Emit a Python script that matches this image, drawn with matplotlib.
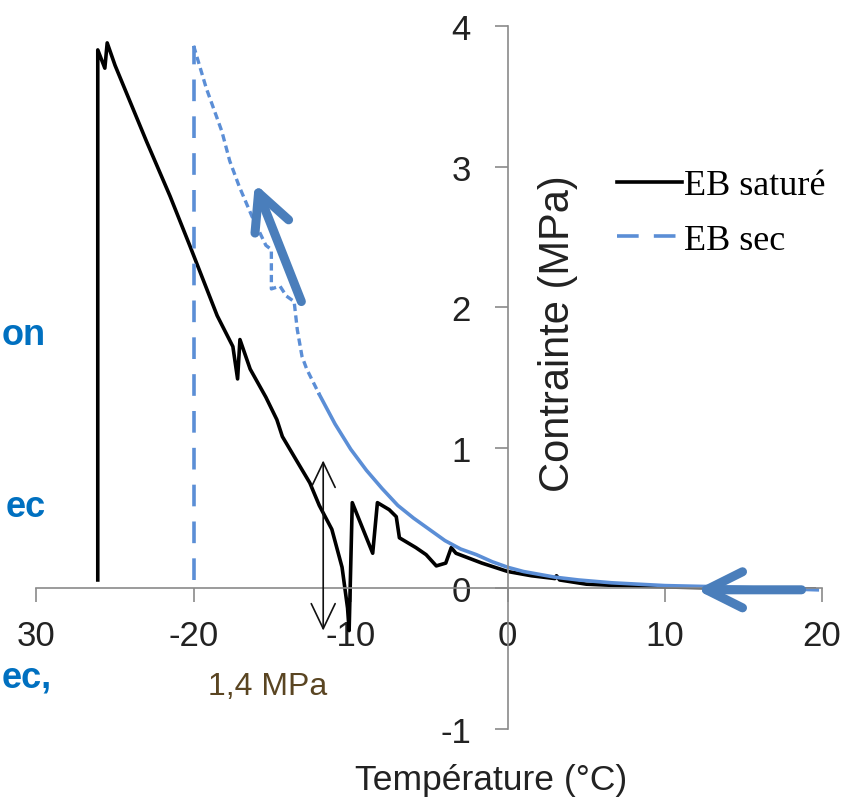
import matplotlib
matplotlib.use("Agg")
import matplotlib.pyplot as plt
from matplotlib import font_manager

# Courbes (Température en °C, Contrainte en MPa)
sat_temp = [-26.1, -26.1, -25.65, -25.5, -25.0, -23.0, -21.5, -20.25, -18.5, -17.5,
            -17.2, -17.05, -16.4, -15.4, -14.7, -14.35, -13.45, -12.6, -12.0, -11.2,
            -10.55, -10.2, -10.1, -9.9, -8.6, -8.3, -7.55, -7.1, -6.9, -5.85,
            -5.2, -4.55, -3.95, -3.6, -3.3, -1.65, 0.0, 1.5, 3.0, 3.1,
            3.3, 5.0, 7.0, 10.0, 15.0, 19.5]
sat_stress = [0.06, 3.83, 3.70, 3.88, 3.72, 3.18, 2.79, 2.44, 1.94, 1.72,
              1.49, 1.77, 1.56, 1.36, 1.20, 1.08, 0.91, 0.75, 0.59, 0.42,
              0.15, -0.14, -0.30, 0.61, 0.25, 0.61, 0.56, 0.51, 0.36, 0.29,
              0.24, 0.16, 0.18, 0.29, 0.25, 0.18, 0.12, 0.09, 0.07, 0.09,
              0.06, 0.03, 0.02, 0.01, 0.0, -0.005]

dry_temp = [-20.0, -20.0, -19.2, -18.2, -17.7, -17.1, -16.3, -15.4, -15.05, -15.05,
            -14.5, -14.1, -13.6, -13.4, -13.1, -12.8, -12.0, -11.0, -10.0, -9.0,
            -8.0, -7.0, -6.0, -5.0, -4.0, -3.0, -2.0, -1.0, 0.0, 1.0,
            2.0, 3.0, 4.5, 6.6, 10.0, 14.0, 19.7]
dry_stress = [0.06, 3.86, 3.56, 3.25, 3.04, 2.86, 2.65, 2.44, 2.41, 2.13,
              2.15, 2.08, 2.04, 1.84, 1.65, 1.56, 1.38, 1.17, 0.99, 0.84,
              0.71, 0.59, 0.50, 0.42, 0.34, 0.28, 0.24, 0.19, 0.15, 0.12,
              0.10, 0.08, 0.06, 0.04, 0.02, 0.01, -0.01]

x_ticks = [-30, -20, -10, 0, 10, 20]
x_labels = ["30", "-20", "-10", "0", "10", "20"]
y_ticks = [-1, 0, 1, 2, 3, 4]
y_labels = ["-1", "0", "1", "2", "3", "4"]

noir = "black"
bleu = "#5B8ED6"
bleu_fleche = "#4A7EBB"
gris = "#8a8a8a"

noms = {f.name for f in font_manager.fontManager.ttflist}
if "Liberation Sans Narrow" in noms:
    police_ticks, taille_ticks = "Liberation Sans Narrow", 29.5
else:
    police_ticks, taille_ticks = "Liberation Sans", 25

fig = plt.figure(figsize=(8.48, 8.04), dpi=100)
ax = fig.add_axes([36.5 / 848, 74 / 804, 785.5 / 848, 703 / 804])
ax.set_xlim(-30, 20)
ax.set_ylim(-1, 4)

# séries
ax.plot(sat_temp, sat_stress, color=noir, lw=2.6, label="EB saturé", solid_joinstyle="round")
ax.plot(dry_temp[0:2], dry_stress[0:2], color=bleu, lw=2.6, dashes=(6, 4.2), label="EB sec")
ax.plot(dry_temp[1:17], dry_stress[1:17], color=bleu, lw=2.4, dashes=(2.2, 1.3))
ax.plot(dry_temp[16:], dry_stress[16:], color=bleu, lw=2.6)

# axes au croisement (0, 0)
for s in ["top", "right"]:
    ax.spines[s].set_visible(False)
ax.spines["left"].set_position(("data", 0))
ax.spines["bottom"].set_position(("data", 0))
for s in ["left", "bottom"]:
    ax.spines[s].set_color(gris)
    ax.spines[s].set_linewidth(1.2)

ax.set_xticks(x_ticks)
ax.set_xticklabels(x_labels, fontfamily=police_ticks, fontsize=taille_ticks, color="#222222")
ax.set_yticks(y_ticks)
ax.set_yticklabels(y_labels, fontfamily=police_ticks, fontsize=taille_ticks, color="#222222")
ax.tick_params(axis="x", direction="out", length=10, width=1.2, color=gris, pad=12)
ax.tick_params(axis="y", direction="out", length=9.5, width=1.2, color=gris, pad=17)

fig.text(491 / 848, (804 - 790) / 804, "Température (°C)", ha="center", va="baseline",
         fontfamily=police_ticks, fontsize=taille_ticks + 0.5, color="#222222")
fig.text(558 / 848, (804 - 334) / 804, "Contrainte (MPa)", rotation=90, ha="center", va="center",
         fontfamily="Liberation Sans", fontsize=30, color="#222222")

ax.legend(loc="upper left", bbox_to_anchor=(617 / 848, (804 - 170) / 804),
          bbox_transform=fig.transFigure, frameon=False, borderpad=0, borderaxespad=0,
          handlelength=1.8, handletextpad=0.05, labelspacing=0.58,
          prop={"family": "Liberation Serif", "size": 26})

# flèches et annotations
tete = "->,head_length=1.3,head_width=0.65"
ax.annotate("", xy=(-16.1, 2.88), xytext=(-13.14, 2.04),
            arrowprops=dict(arrowstyle=tete, lw=6.5, color=bleu_fleche, shrinkA=0, shrinkB=0,
                            mutation_scale=20, capstyle="round", joinstyle="round"))
ax.annotate("", xy=(12.0, -0.01), xytext=(18.7, -0.01),
            arrowprops=dict(arrowstyle=tete, lw=6.5, color=bleu_fleche, shrinkA=0, shrinkB=0,
                            mutation_scale=20, capstyle="round", joinstyle="round"))
ax.annotate("", xy=(-11.75, 0.91), xytext=(-11.75, -0.30),
            arrowprops=dict(arrowstyle="<->,head_length=0.9,head_width=0.43", lw=1.2,
                            color="#111111", shrinkA=0, shrinkB=0, mutation_scale=20))
ax.text(-19.1, -0.75, "1,4 MPa", ha="left", va="baseline", fontfamily="Liberation Sans",
        fontsize=23, color="#5a4522")

# fragments du texte de la diapositive au bord gauche
for txt, xd, yb in [("on", 46, 345), ("ec", 46, 517), ("ec,", 52, 688)]:
    fig.text(xd / 848, (804 - yb) / 804, txt, ha="right", va="baseline",
             fontfamily="Liberation Sans", fontweight="bold", fontsize=26, color="#0070C0")

fig.savefig("out.png", dpi=100)
